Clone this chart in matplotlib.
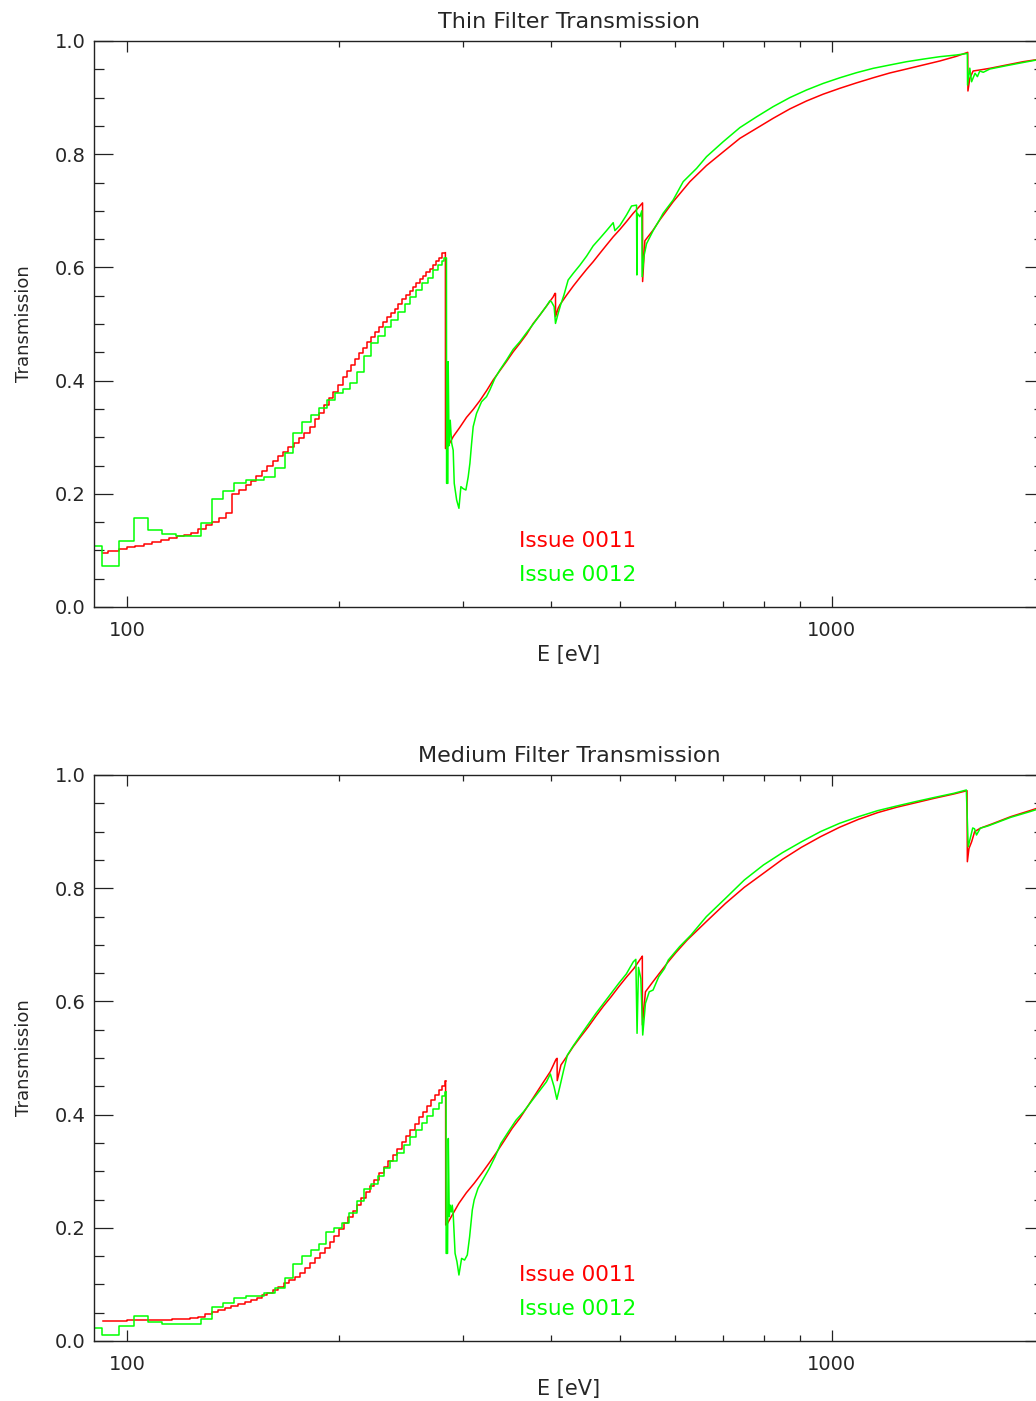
import matplotlib
matplotlib.use("Agg")
import matplotlib.pyplot as plt
from matplotlib.ticker import FixedLocator, NullFormatter, FixedFormatter, MultipleLocator, FormatStrFormatter

plt.rcParams['font.family'] = ['DejaVu Sans']

# ---------------- Thin filter (top panel) ----------------
thin_red_step_E = [92.5, 94.0, 97.4, 99.9, 102.7, 105.7, 108.6, 111.6, 114.7, 117.6, 120.4, 123.1,
                   126.1, 129.3, 132.1, 135.0, 138.0, 140.9, 144.2, 147.4, 149.8, 152.3, 155.3, 158.1,
                   161.1, 163.9, 166.6, 169.5, 172.4, 175.5, 178.6, 181.9, 184.7, 187.5, 190.4, 193.2,
                   196.3, 199.3, 202.3, 204.9, 208.0, 210.6, 213.4, 216.1, 218.9, 222.0, 225.1, 228.0,
                   231.0, 233.7, 236.7, 239.8, 242.6, 245.7, 248.7, 251.7, 254.7, 257.3, 260.4, 263.0,
                   266.0, 269.0, 272.0, 274.5, 277.5, 280.0, 283.0]
thin_red_step_T = [0.095, 0.099, 0.102, 0.1055, 0.108, 0.112, 0.1155, 0.119, 0.122, 0.1255, 0.127, 0.130,
                   0.137, 0.144, 0.151, 0.158, 0.1655, 0.200, 0.207, 0.215, 0.223, 0.231, 0.241, 0.249,
                   0.258, 0.267, 0.274, 0.282, 0.290, 0.298, 0.308, 0.3186, 0.333, 0.343, 0.357, 0.369,
                   0.380, 0.393, 0.406, 0.4175, 0.4276, 0.4376, 0.448, 0.458, 0.468, 0.4776, 0.4865, 0.495,
                   0.5035, 0.512, 0.520, 0.527, 0.535, 0.5436, 0.551, 0.558, 0.565, 0.572, 0.579, 0.585,
                   0.592, 0.598, 0.605, 0.611, 0.6166, 0.626, 0.626]
thin_red_line_E = [283.0, 283.1, 286.0, 290.3, 296.7, 303.2, 309.9, 316.7, 323.7, 330.8, 338.1, 345.6,
                   353.2, 361.0, 369.0, 377.1, 385.4, 393.9, 402.5, 404.7, 405.5, 405.6, 409.1, 411.4,
                   420.5, 429.7, 439.2, 448.9, 458.6, 468.8, 479.1, 489.6, 500.4, 511.4, 522.6, 534.2,
                   538.9, 539.0, 543.0, 557.9, 570.2, 595.5, 629.0, 664.1, 701.2, 740.6, 782.0, 825.6,
                   871.9, 920.6, 971.9, 1026.4, 1084.0, 1144.6, 1208.6, 1276.2, 1347.8, 1423.3, 1502.8,
                   1559.0, 1560.0, 1569.5, 1586.5, 1621.6, 1675.4, 1769.2, 1867.5, 1951.3, 2000.0]
thin_red_line_T = [0.626, 0.280, 0.286, 0.301, 0.3175, 0.335, 0.349, 0.3645, 0.382, 0.401, 0.4175, 0.434,
                   0.451, 0.466, 0.482, 0.501, 0.516, 0.532, 0.548, 0.554, 0.554, 0.513, 0.528, 0.534,
                   0.551, 0.567, 0.582, 0.5966, 0.610, 0.625, 0.6396, 0.654, 0.667, 0.681, 0.6955, 0.7085,
                   0.714, 0.575, 0.647, 0.666, 0.684, 0.716, 0.7515, 0.780, 0.804, 0.828, 0.8457, 0.8634,
                   0.880, 0.894, 0.906, 0.9164, 0.926, 0.935, 0.9435, 0.9505, 0.9576, 0.9647, 0.973,
                   0.980, 0.9117, 0.934, 0.947, 0.9488, 0.9517, 0.9576, 0.9634, 0.967, 0.969]

thin_green_step_E = [89.0, 92.3, 97.4, 102.3, 107.2, 112.2, 117.2, 127.2, 132.1, 137.0, 142.1, 147.4,
                     156.7, 162.2, 167.4, 172.2, 177.2, 182.3, 187.5, 192.0, 197.2, 202.7, 207.2, 212.1,
                     216.8, 222.0, 227.3, 232.3, 236.7, 242.6, 247.9, 251.7, 256.9, 261.8, 267.5, 271.9,
                     276.4, 279.5, 281.6, 284.0]
thin_green_step_T = [0.108, 0.0724, 0.1166, 0.158, 0.1366, 0.129, 0.126, 0.149, 0.190, 0.2055, 0.2185, 0.2244,
                     0.2297, 0.245, 0.2715, 0.308, 0.3275, 0.3386, 0.351, 0.3657, 0.3775, 0.386, 0.3964, 0.4158,
                     0.4435, 0.467, 0.4788, 0.4953, 0.507, 0.5206, 0.535, 0.548, 0.560, 0.572, 0.5818, 0.5954,
                     0.604, 0.612, 0.616, 0.616]
thin_green_line_E = [284.0, 284.1, 285.3, 285.6, 286.4, 287.5, 288.8, 290.3, 291.3, 293.6, 295.8, 297.7,
                     300.0, 302.6, 304.9, 306.6, 308.3, 309.9, 313.3, 318.5, 323.7, 327.2, 332.7, 338.1,
                     345.6, 353.2, 361.0, 369.0, 377.1, 385.4, 393.9, 398.1, 400.3, 403.7, 405.5, 409.1,
                     412.3, 416.8, 422.6, 429.7, 439.2, 448.9, 458.6, 468.8, 479.1, 489.6, 492.3, 500.4,
                     511.4, 519.9, 528.4, 529.0, 529.8, 534.2, 537.6, 538.2, 541.2, 546.0, 557.9, 570.2,
                     576.3, 595.5, 615.4, 643.0, 664.1, 701.2, 740.6, 782.0, 825.6, 871.9, 920.6, 971.9,
                     1026.4, 1084.0, 1144.6, 1208.6, 1276.2, 1347.8, 1423.3, 1502.8, 1557.0, 1558.0, 1569.5,
                     1578.7, 1596.6, 1609.0, 1621.6, 1640.0, 1675.4, 1769.2, 1867.5, 1951.3, 2000.0]
thin_green_line_T = [0.616, 0.2185, 0.2185, 0.4335, 0.285, 0.330, 0.290, 0.277, 0.2185, 0.189, 0.1744, 0.2126,
                     0.209, 0.2067, 0.230, 0.254, 0.289, 0.3186, 0.342, 0.3627, 0.3716, 0.3834, 0.404, 0.4187,
                     0.4364, 0.4553, 0.4688, 0.4847, 0.500, 0.516, 0.532, 0.541, 0.539, 0.5306, 0.501, 0.519,
                     0.5336, 0.551, 0.5777, 0.5895, 0.604, 0.620, 0.638, 0.6514, 0.665, 0.679, 0.665, 0.674,
                     0.6926, 0.7085, 0.710, 0.5866, 0.6955, 0.6896, 0.700, 0.5836, 0.619, 0.642, 0.665, 0.685,
                     0.6955, 0.719, 0.7515, 0.775, 0.7956, 0.822, 0.847, 0.866, 0.884, 0.900, 0.9134, 0.925,
                     0.935, 0.944, 0.9517, 0.9576, 0.9634, 0.968, 0.9723, 0.9753, 0.978, 0.922, 0.952,
                     0.928, 0.943, 0.937, 0.947, 0.9447, 0.9505, 0.9564, 0.962, 0.9664, 0.968]

# ---------------- Medium filter (bottom panel) ----------------
med_red_step_E = [92.6, 100.0, 108.0, 116.0, 122.8, 126.2, 129.0, 131.9, 134.7, 137.7, 140.7, 143.8,
                  147.0, 150.2, 152.7, 155.3, 157.8, 161.3, 163.9, 167.0, 169.9, 173.0, 176.0, 179.0,
                  182.0, 185.0, 188.0, 191.0, 194.0, 197.0, 200.0, 203.0, 206.0, 209.0, 212.0, 215.0,
                  218.0, 221.0, 224.5, 228.0, 231.5, 235.0, 238.5, 242.0, 245.5, 249.0, 252.5, 256.0,
                  259.5, 263.0, 266.5, 270.0, 273.5, 277.0, 280.2, 282.5, 283.2]
med_red_step_T = [0.0359, 0.0365, 0.0372, 0.0385, 0.0400, 0.0429, 0.0471, 0.0518, 0.0548, 0.0590, 0.0619, 0.0648,
                  0.0690, 0.0724, 0.0766, 0.0813, 0.0854, 0.0901, 0.0961, 0.1019, 0.1078, 0.1137, 0.121, 0.129,
                  0.137, 0.146, 0.155, 0.165, 0.175, 0.186, 0.197, 0.208, 0.219, 0.230, 0.241, 0.252,
                  0.263, 0.274, 0.285, 0.296, 0.307, 0.318, 0.329, 0.340, 0.351, 0.362, 0.373, 0.384,
                  0.395, 0.405, 0.415, 0.425, 0.434, 0.443, 0.451, 0.459, 0.459]
med_red_line_E = [283.2, 283.3, 285.0, 288.5, 295.8, 303.1, 310.9, 318.7, 326.7, 335.0, 343.4, 352.0,
                  360.9, 370.0, 379.3, 388.8, 398.7, 406.2, 407.6, 407.8, 412.8, 419.0, 429.6, 440.3,
                  451.5, 462.8, 474.5, 486.4, 498.6, 511.0, 524.0, 537.2, 538.5, 538.7, 544.0, 557.7,
                  571.7, 586.1, 600.7, 623.6, 663.7, 706.4, 751.4, 799.8, 851.1, 905.6, 963.8, 1025.4,
                  1091.2, 1161.4, 1235.8, 1315.0, 1399.6, 1489.0, 1555.4, 1557.0, 1565.1, 1578.9, 1594.6,
                  1624.3, 1686.0, 1793.9, 1909.4, 1952.6, 2000.0]
med_red_line_T = [0.459, 0.205, 0.208, 0.2197, 0.2433, 0.262, 0.2786, 0.2963, 0.315, 0.3345, 0.355, 0.3758,
                  0.3935, 0.414, 0.4346, 0.4553, 0.476, 0.4977, 0.4994, 0.460, 0.4876, 0.4994, 0.520, 0.5377,
                  0.5553, 0.574, 0.592, 0.6084, 0.626, 0.6425, 0.6584, 0.678, 0.680, 0.5583, 0.617, 0.635,
                  0.6525, 0.670, 0.686, 0.7085, 0.741, 0.773, 0.8016, 0.8263, 0.851, 0.8723, 0.891, 0.9076,
                  0.9217, 0.9335, 0.943, 0.951, 0.959, 0.9664, 0.9723, 0.8468, 0.870, 0.882, 0.900,
                  0.906, 0.9134, 0.9264, 0.937, 0.941, 0.944]

med_green_step_E = [89.0, 92.3, 97.4, 102.3, 107.2, 112.2, 127.2, 132.1, 137.0, 142.1, 147.4, 156.7,
                    162.2, 167.4, 172.2, 177.3, 182.3, 187.2, 191.8, 196.7, 202.1, 206.6, 212.1, 216.8,
                    222.0, 227.3, 231.6, 236.3, 241.6, 247.2, 252.0, 256.9, 262.4, 266.6, 272.2, 277.0,
                    280.0, 282.3, 283.6]
med_green_step_T = [0.0224, 0.0106, 0.0265, 0.0442, 0.0342, 0.0300, 0.0383, 0.0595, 0.0677, 0.0765, 0.080, 0.0853,
                    0.0930, 0.1107, 0.1355, 0.1508, 0.1608, 0.1708, 0.1920, 0.1991, 0.209, 0.2255, 0.248, 0.268,
                    0.277, 0.292, 0.305, 0.318, 0.333, 0.347, 0.361, 0.373, 0.385, 0.398, 0.410, 0.421,
                    0.432, 0.440, 0.440]
med_green_line_E = [283.6, 283.7, 285.0, 285.7, 286.6, 287.5, 288.5, 289.4, 290.3, 292.1, 293.9, 295.8,
                    298.4, 301.3, 304.0, 306.3, 309.0, 310.9, 314.8, 320.7, 326.7, 332.9, 339.2, 347.7,
                    356.4, 365.4, 374.6, 384.1, 393.7, 398.7, 403.6, 407.3, 411.3, 416.5, 421.6, 429.6,
                    440.3, 451.5, 462.8, 474.5, 486.4, 498.6, 511.0, 523.0, 527.2, 529.3, 531.8, 535.9,
                    539.2, 544.0, 550.8, 557.7, 568.2, 578.9, 586.1, 608.2, 631.3, 663.7, 706.4, 751.4,
                    799.8, 851.1, 905.6, 963.8, 1025.4, 1091.2, 1161.4, 1235.8, 1315.0, 1399.6, 1489.0,
                    1551.8, 1561.4, 1584.6, 1594.0, 1604.2, 1624.3, 1665.8, 1793.9, 1909.4, 1952.6, 2000.0]
med_green_line_T = [0.440, 0.1548, 0.1548, 0.3578, 0.2197, 0.240, 0.228, 0.240, 0.225, 0.1548, 0.1401, 0.1166,
                    0.146, 0.143, 0.152, 0.184, 0.2315, 0.2492, 0.2697, 0.2874, 0.305, 0.3256, 0.349, 0.3698,
                    0.390, 0.4052, 0.4229, 0.4405, 0.458, 0.4718, 0.4493, 0.4270, 0.4493, 0.4788, 0.5053, 0.5212,
                    0.5406, 0.560, 0.5789, 0.5966, 0.6143, 0.632, 0.6484, 0.6702, 0.6743, 0.5436, 0.6602, 0.640,
                    0.5406, 0.5966, 0.617, 0.620, 0.6437, 0.658, 0.673, 0.6967, 0.7173, 0.7497, 0.782, 0.8145,
                    0.841, 0.8628, 0.882, 0.900, 0.9146, 0.9264, 0.937, 0.9452, 0.953, 0.9605, 0.9676,
                    0.9735, 0.8733, 0.9064, 0.905, 0.894, 0.906, 0.910, 0.9252, 0.9352, 0.939, 0.942]

titles = ["Thin Filter Transmission", "Medium Filter Transmission"]
legend_labels = ["Issue 0011", "Issue 0012"]
x_major_ticks = [100, 1000]
x_major_labels = ["100", "1000"]
x_minor_ticks = [200, 300, 400, 500, 600, 700, 800, 900, 2000]

RED = '#ff0000'
GREEN = '#00ff00'
TXT = '#262626'
FS = 14

W, H = 1036, 1401
fig = plt.figure(figsize=(W / 100, H / 100), dpi=100)

panels = [
    (41, 607, thin_red_step_E, thin_red_step_T, thin_red_line_E, thin_red_line_T,
     thin_green_step_E, thin_green_step_T, thin_green_line_E, thin_green_line_T, titles[0]),
    (775, 1341, med_red_step_E, med_red_step_T, med_red_line_E, med_red_line_T,
     med_green_step_E, med_green_step_T, med_green_line_E, med_green_line_T, titles[1]),
]

left_px, right_px = 94, 1044
for (top_px, bot_px, rsE, rsT, rlE, rlT, gsE, gsT, glE, glT, title) in panels:
    ax = fig.add_axes([left_px / W, 1 - bot_px / H, (right_px - left_px) / W, (bot_px - top_px) / H])
    ax.set_xscale('log')
    ax.plot(rsE, rsT, color=RED, lw=1.1, drawstyle='steps-post')
    ax.plot(rlE, rlT, color=RED, lw=1.1)
    ax.plot(gsE, gsT, color=GREEN, lw=1.1, drawstyle='steps-post')
    ax.plot(glE, glT, color=GREEN, lw=1.1)
    ax.set_xlim(89.8, 2000)
    ax.set_ylim(0, 1)

    ax.xaxis.set_major_locator(FixedLocator(x_major_ticks))
    ax.xaxis.set_major_formatter(FixedFormatter(x_major_labels))
    ax.xaxis.set_minor_locator(FixedLocator(x_minor_ticks))
    ax.xaxis.set_minor_formatter(NullFormatter())
    ax.yaxis.set_major_locator(MultipleLocator(0.2))
    ax.yaxis.set_major_formatter(FormatStrFormatter('%.1f'))
    ax.yaxis.set_minor_locator(MultipleLocator(0.05))

    ax.tick_params(axis='y', which='major', direction='in', length=13.5, width=0.9,
                   left=True, right=True, labelsize=FS, labelcolor=TXT, pad=6, color='#222222')
    ax.tick_params(axis='y', which='minor', direction='in', length=7, width=0.9,
                   left=True, right=True, color='#222222')
    ax.tick_params(axis='x', which='major', direction='in', length=8, width=0.9,
                   bottom=True, top=True, labelsize=FS, labelcolor=TXT, pad=10, color='#222222')
    ax.tick_params(axis='x', which='minor', direction='in', length=4, width=0.9,
                   bottom=True, top=True, color='#222222')
    for s in ax.spines.values():
        s.set_color('#222222')
        s.set_linewidth(1.0)

    ax.set_title(title, fontsize=FS + 2, color=TXT, pad=9)
    ax.set_xlabel('E [eV]', fontsize=FS + 1, color=TXT, labelpad=4)
    ax.set_ylabel('Transmission', fontsize=FS - 1, color=TXT, labelpad=16)

    ax.text(0.447, 0.1166, legend_labels[0], transform=ax.transAxes, color=RED,
            fontsize=FS + 1.5, ha='left', va='center')
    ax.text(0.447, 0.0565, legend_labels[1], transform=ax.transAxes, color=GREEN,
            fontsize=FS + 1.5, ha='left', va='center')

fig.savefig('out.png', dpi=100)
